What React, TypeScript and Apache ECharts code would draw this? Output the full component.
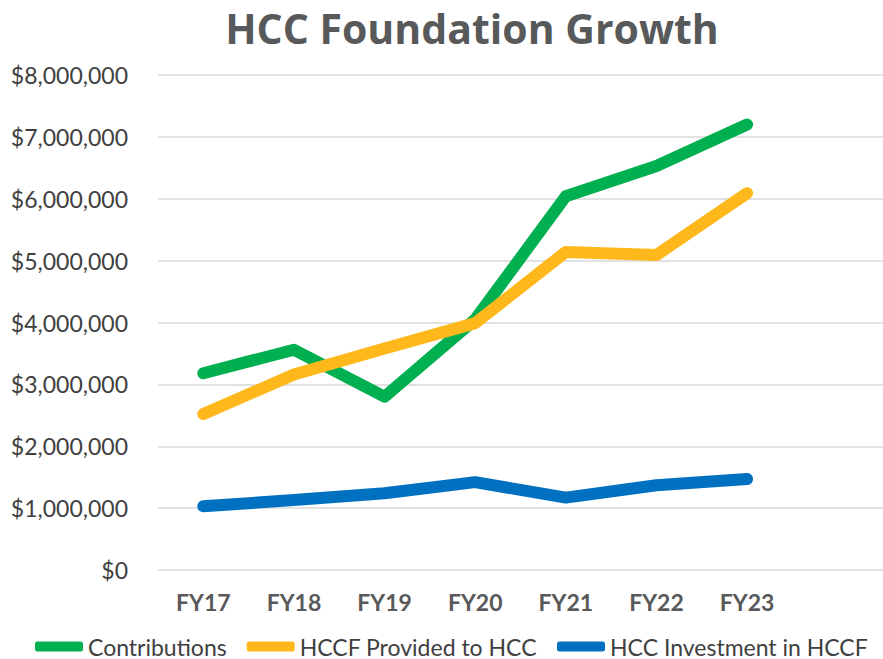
import React, { useEffect, useRef } from "react";
import * as echarts from "echarts";

const categories = ["FY17", "FY18", "FY19", "FY20", "FY21", "FY22", "FY23", ""];
const contributions = [3180000, 3560000, 2800000, 4050000, 6040000, 6530000, 7200000];
const provided = [2520000, 3160000, 3580000, 3990000, 5140000, 5090000, 6090000];
const investment = [1030000, 1130000, 1240000, 1420000, 1170000, 1370000, 1470000];
const seriesNames = ["Contributions", "HCCF Provided to HCC", "HCC Investment in HCCF"];
const colors = ["#00B050", "#FFB81C", "#0070C0"];

export default function App() {
  const ref = useRef<HTMLDivElement>(null);
  useEffect(() => {
    if (!ref.current) return;
    const chart = echarts.init(ref.current, null, { renderer: "svg" });
    const mk = (name: string, data: number[], color: string) => ({
      name,
      type: "line",
      data,
      symbol: "none",
      lineStyle: { width: 12, color, cap: "round", join: "round" },
      itemStyle: { color },
    });
    chart.setOption({
      animation: false,
      backgroundColor: "#ffffff",
      title: {
        text: "HCC Foundation Growth",
        left: 467,
        textAlign: "center",
        top: 2,
        textStyle: {
          fontFamily: "Open Sans",
          fontWeight: "bold",
          fontSize: 41,
          color: "#58595B",
        },
      },
      legend: {
        top: 635,
        left: 35,
        padding: 0,
        itemWidth: 48,
        itemHeight: 10,
        itemGap: 20,
        icon: "roundRect",
        textStyle: { fontFamily: "Lato", fontSize: 23, color: "#404040" },
        data: seriesNames,
      },
      grid: { left: 158, top: 75, width: 730, height: 495, containLabel: false },
      xAxis: {
        type: "category",
        data: categories,
        boundaryGap: true,
        axisLine: { show: false },
        axisTick: { show: false },
        axisLabel: {
          margin: 20,
          fontFamily: "Lato",
          fontWeight: "bold",
          fontSize: 23,
          color: "#595959",
        },
      },
      yAxis: {
        type: "value",
        min: 0,
        max: 8000000,
        interval: 1000000,
        axisLine: { show: false },
        axisTick: { show: false },
        splitLine: { lineStyle: { color: "#D9D9D9", width: 1.5 } },
        axisLabel: {
          margin: 30,
          fontFamily: "Lato",
          fontSize: 23,
          color: "#404040",
          formatter: (v: number) => "$" + v.toLocaleString("en-US"),
        },
      },
      series: [
        mk(seriesNames[0], contributions, colors[0]),
        mk(seriesNames[1], provided, colors[1]),
        mk(seriesNames[2], investment, colors[2]),
      ],
    });
    return () => chart.dispose();
  }, []);
  return (
    <div
      ref={ref}
      style={{ position: "fixed", left: 0, top: 0, width: 883, height: 659 }}
    />
  );
}
